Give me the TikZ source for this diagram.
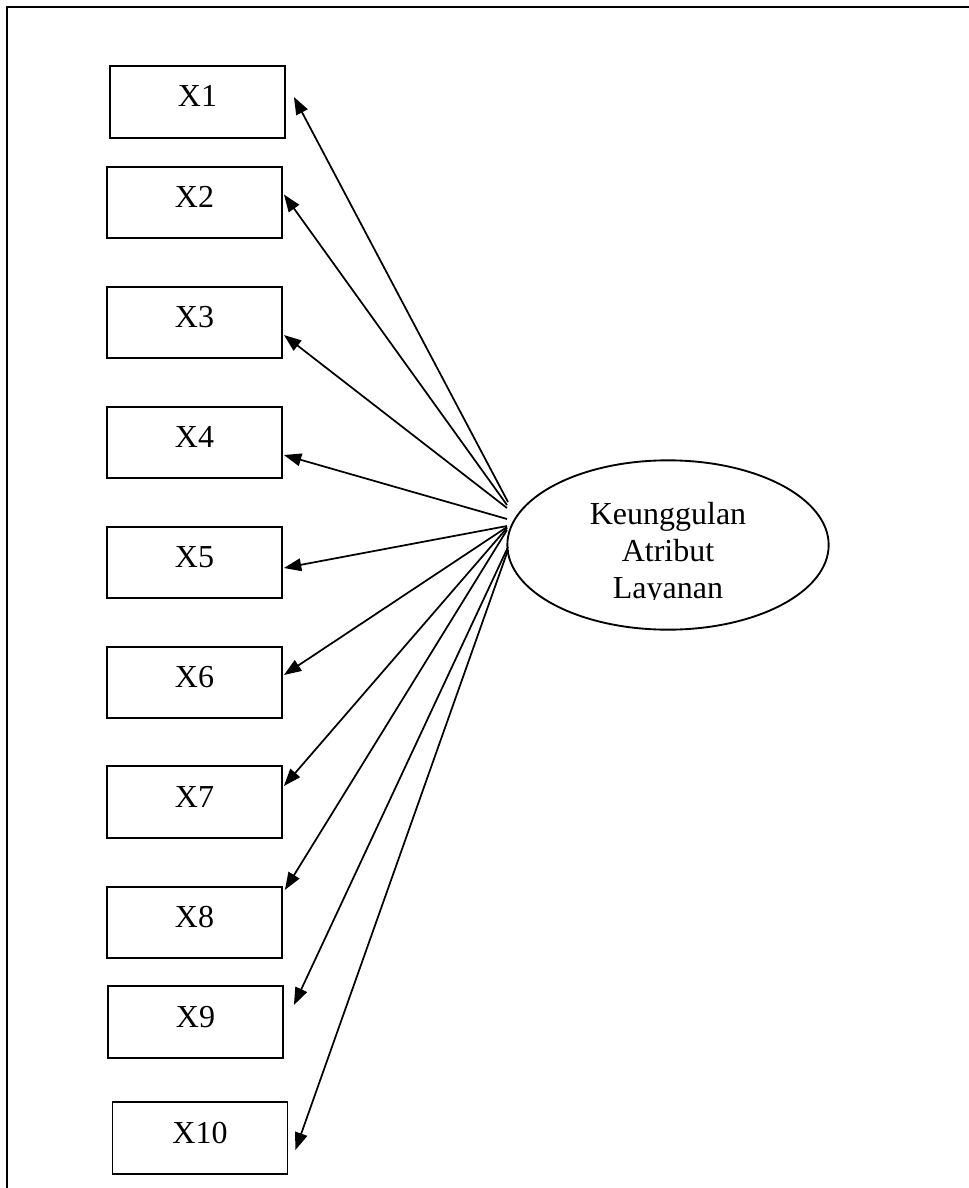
\documentclass[tikz,border=0pt]{standalone}
\usepackage{fontspec}
\setmainfont{Liberation Serif}
\usetikzlibrary{shapes.geometric,arrows.meta,calc}
\begin{document}
\begin{tikzpicture}[x=0.75pt,y=-0.75pt,
  item/.style={draw,line width=1.4pt,rectangle,minimum width=131.25pt,minimum height=53.6pt,
    inner sep=0pt,text height=16pt,text depth=8.5pt,font=\fontsize{24}{27.5}\selectfont},
  latent/.style={draw,line width=1.4pt,ellipse,minimum width=241pt,minimum height=127pt,inner sep=0pt},
  lbl/.style={align=center,inner sep=0pt,font=\fontsize{24}{27.5}\selectfont},
  load/.style={line width=1.3pt,-{Triangle[length=13pt,width=9.5pt]}}]
\useasboundingbox (0,0) rectangle (969,1188);
\fill[white] (0,0) rectangle (969,1188);
% open frame: top and left sides only
\draw[line width=1.5pt] (969,7) -- (7,7) -- (7,1188);

% indicators
\node[item] (x1)  at (197.5,102)   {X1};
\node[item] (x2)  at (194.5,202.5) {X2};
\node[item] (x3)  at (194.5,322.5) {X3};
\node[item] (x4)  at (194.5,442.5) {X4};
\node[item] (x5)  at (194.5,562.5) {X5};
\node[item] (x6)  at (194.5,682.5) {X6};
\node[item] (x7)  at (194.5,802)   {X7};
\node[item] (x8)  at (194.5,922.5) {X8};
\node[item] (x9)  at (195.5,1022)  {X9};
\node[item] (x10) at (200,1138)    {X10};

% latent construct; its label is cut off just below the last baseline
\node[latent] (lat) at (668,545) {};
\begin{scope}
  \clip (500,470) rectangle (840,599);
  \node[lbl,anchor=base] (latlbl) at (668,598) {Keunggulan\\Atribut\\Layanan};
\end{scope}

% loading origins on the left of the ellipse
\coordinate (h1)  at (508,502);
\coordinate (h2)  at (507,505);
\coordinate (h3)  at (507,508);
\coordinate (h4)  at (507,519);
\coordinate (h5)  at (507,526);
\coordinate (h6)  at (507,527);
\coordinate (h7)  at (507,528);
\coordinate (h8)  at (507,530);
\coordinate (h9)  at (508,547);
\coordinate (h10) at (508,550);

% loadings
\draw[load] (h1)  -- ($(x1.east)+(8,-5)$);
\draw[load] (h2)  -- ($(x2.east)+(1,-8)$);
\draw[load] (h3)  -- ($(x3.east)+(1,12.5)$);
\draw[load] (h4)  -- ($(x4.east)+(1,12.5)$);
\draw[load] (h5)  -- ($(x5.east)+(1,5.5)$);
\draw[load] (h6)  -- ($(x6.east)+(1,-7.5)$);
\draw[load] (h7)  -- ($(x7.east)+(1,-16)$);
\draw[load] (h8)  -- ($(x8.north east)+(2,4)$);
\draw[load] (h9)  -- ($(x9.east)+(10,-17)$);
\draw[load] (h10) -- ($(x10.east)+(7,12)$);
\end{tikzpicture}
\end{document}
